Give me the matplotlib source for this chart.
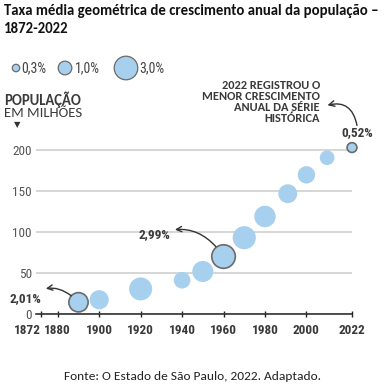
import matplotlib
matplotlib.use("Agg")
import matplotlib.pyplot as plt

# censos e taxa media geometrica de crescimento anual (%)
years = [1890, 1900, 1920, 1940, 1950, 1960, 1970, 1980, 1991, 2000, 2010, 2022]
pop = [14.3, 17.4, 30.6, 41.2, 51.9, 70.1, 93.1, 119.0, 146.8, 169.8, 190.7, 203.1]
rates = [2.01, 1.98, 2.86, 1.49, 2.39, 2.99, 2.89, 2.48, 1.93, 1.64, 1.17, 0.52]
highlight = [1890, 1960, 2022]

x_ticks = [1872, 1880, 1900, 1920, 1940, 1960, 1980, 2000, 2022]
y_ticks = [0, 50, 100, 150, 200]
legend_rates = [0.3, 1.0, 3.0]
legend_labels = ["0,3%", "1,0%", "3,0%"]

W, H = 387, 385
fill = "#a7d0ee"
edge = "#6b6b6b"
dark = "#3a3a3a"
cond = "Roboto Condensed"
cal = "Carlito"


def size(r):
    # area proporcional a taxa
    return 96 * r


fig = plt.figure(figsize=(W / 100, H / 100), dpi=100)
ax = fig.add_axes([36 / W, 1 - 314 / H, 316 / W, 168 / H])

cols = [edge if y in highlight else fill for y in years]
lws = [1.2 if y in highlight else 0 for y in years]
ax.scatter(years, pop, s=[size(r) for r in rates], c=fill, edgecolors=cols,
           linewidths=lws, zorder=3, clip_on=False)

ax.set_xlim(1869.5, 2022)
ax.set_ylim(0, 205)
ax.set_xticks(x_ticks)
ax.set_xticklabels([str(t) for t in x_ticks], fontfamily=cond, fontweight="bold",
                   fontsize=9.5, color=dark)
ax.get_xticklabels()[0].set_ha("right")
ax.set_yticks(y_ticks)
ax.set_yticklabels([str(t) for t in y_ticks], fontfamily=cond, fontsize=9.5, color="#555555")
ax.tick_params(axis="x", direction="inout", length=5, width=1, color="#222222", pad=5)
ax.tick_params(axis="y", length=0, pad=3)
ax.set_axisbelow(True)
ax.yaxis.grid(True, color="#cccccc", lw=1.1)
for s in ["left", "right", "top"]:
    ax.spines[s].set_visible(False)
ax.spines["bottom"].set_color("#222222")
ax.spines["bottom"].set_linewidth(1.1)
ax.spines["bottom"].set_zorder(4)

# destaques
arrow = dict(arrowstyle="<-", color="#333333", lw=1, shrinkA=1)
i = years.index(1890)
ax.annotate("2,01%", xy=(years[i], pop[i]), xytext=(-26.5, 3), textcoords="offset points",
            ha="right", va="center", fontfamily=cond, fontweight="bold", fontsize=9.5,
            color=dark,
            arrowprops=dict(arrow, connectionstyle="arc3,rad=-0.45", shrinkB=7))
i = years.index(1960)
ax.annotate("2,99%", xy=(years[i], pop[i]), xytext=(-38, 16), textcoords="offset points",
            ha="right", va="center", fontfamily=cond, fontweight="bold", fontsize=9.5,
            color=dark,
            arrowprops=dict(arrow, connectionstyle="arc3,rad=-0.4", shrinkB=9))
i = years.index(2022)
lab = ax.annotate("0,52%", xy=(years[i], pop[i]), xytext=(3.6, 10.8), textcoords="offset points",
                  ha="center", va="center", fontfamily=cond, fontweight="bold", fontsize=9.5,
                  color=dark)
note = ax.annotate("2022 REGISTROU O\nMENOR CRESCIMENTO\nANUAL DA SÉRIE\nHISTÓRICA",
                   xy=(years[i], pop[i]), xytext=(-23, 32.5), textcoords="offset points",
                   ha="right", va="center", multialignment="right", linespacing=1.0,
                   fontfamily=cal, fontweight="bold", fontsize=8.9, color=dark)
ax.annotate("", xy=(1.04, 0.42), xycoords=note, xytext=(0.5, 1.05), textcoords=lab,
            arrowprops=dict(arrowstyle="->", color="#333333", lw=1,
                            connectionstyle="arc3,rad=0.55", shrinkA=0, shrinkB=2))

# legenda de tamanhos
lx = [16, 65, 126]
tx = [21, 75, 139]
fig.gca().scatter([x / W for x in lx], [1 - 68 / H] * 3, s=[size(r) for r in legend_rates],
                  c=fill, edgecolors=edge, linewidths=0.9, transform=fig.transFigure,
                  clip_on=False)
for x, t in zip(tx, legend_labels):
    fig.text(x / W, 1 - 68 / H, t, ha="left", va="center", fontfamily=cond,
             fontsize=10, color="#444444")

fig.text(4 / W, 1 - 100 / H, "POPULAÇÃO", ha="left", va="center", fontfamily=cal,
         fontweight="bold", fontsize=10.5, color=dark)
fig.text(4 / W, 1 - 113 / H, "EM MILHÕES", ha="left", va="center", fontfamily=cal,
         fontsize=10.5, color=dark)
fig.text(17 / W, 1 - 125 / H, "▼", ha="center", va="center", fontfamily="DejaVu Sans",
         fontsize=6, color="#333333")

fig.text(4 / W, 1 - 15 / H, "Taxa média geométrica de crescimento anual da população –",
         ha="left", va="baseline", fontfamily=cal, fontweight="bold", fontsize=10.6, color="#111111")
fig.text(4 / W, 1 - 33 / H, "1872-2022", ha="left", va="baseline", fontfamily=cal,
         fontweight="bold", fontsize=10.6, color="#111111")
fig.text(192 / W, 1 - 377 / H, "Fonte: O Estado de São Paulo, 2022. Adaptado.",
         ha="center", va="center", fontfamily=cal, fontsize=9.6, color="#222222")

fig.savefig("out.png", dpi=100)
